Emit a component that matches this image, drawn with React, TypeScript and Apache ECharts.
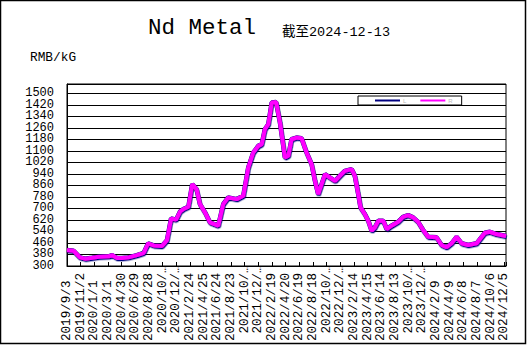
import React, { useEffect, useRef } from "react";
import * as echarts from "echarts";

const startDate = "2019-09-03";
const endDate = "2024-12-13";

const dates = [
  "2019-09-03", "2019-10-02", "2019-10-30", "2019-11-21", "2019-12-22", "2020-01-20",
  "2020-03-04", "2020-03-19", "2020-04-10", "2020-05-01", "2020-05-29", "2020-07-06",
  "2020-08-05", "2020-08-24", "2020-09-18", "2020-10-24", "2020-11-15", "2020-12-03",
  "2020-12-25", "2021-01-12", "2021-01-26", "2021-02-17", "2021-03-06", "2021-03-25",
  "2021-04-09", "2021-05-01", "2021-05-23", "2021-06-28", "2021-07-20", "2021-08-11",
  "2021-09-17", "2021-10-16", "2021-11-07", "2021-11-29", "2021-12-21", "2022-01-05",
  "2022-01-19", "2022-02-03", "2022-02-18", "2022-03-09", "2022-03-26", "2022-04-17",
  "2022-05-02", "2022-05-16", "2022-06-07", "2022-06-29", "2022-07-21", "2022-08-12",
  "2022-08-27", "2022-09-10", "2022-09-25", "2022-10-10", "2022-11-01", "2022-11-23",
  "2022-12-14", "2023-01-05", "2023-02-04", "2023-02-18", "2023-03-05", "2023-03-15",
  "2023-04-03", "2023-04-18", "2023-05-03", "2023-05-17", "2023-06-01", "2023-06-23",
  "2023-07-08", "2023-07-29", "2023-08-27", "2023-09-18", "2023-10-10", "2023-11-01",
  "2023-11-23", "2023-12-15", "2024-01-06", "2024-02-12", "2024-03-05", "2024-03-27",
  "2024-04-18", "2024-05-10", "2024-06-01", "2024-06-30", "2024-08-06", "2024-09-11",
  "2024-10-03", "2024-11-01", "2024-12-13",
];

const pricesL = [
  411, 406, 360, 351, 358, 365,
  367, 376, 355, 355, 360, 376,
  392, 457, 443, 439, 480, 630,
  622, 680, 696, 712, 869, 834,
  730, 673, 603, 580, 730, 777,
  765, 788, 985, 1089, 1135, 1147,
  1251, 1286, 1436, 1440, 1300, 1055,
  1066, 1181, 1193, 1188, 1089, 1008,
  892, 800, 869, 938, 915, 892,
  927, 961, 973, 927, 800, 707,
  661, 614, 545, 569, 614, 614,
  557, 580, 607, 642, 654, 638,
  607, 550, 503, 499, 446, 430,
  458, 503, 458, 446, 458, 531,
  538, 522, 508,
];
const pricesR = pricesL.slice();

const yTicks = [300, 380, 460, 540, 620, 700, 780, 860, 940, 1020, 1100, 1180, 1260, 1340, 1420, 1500];
const yMax = 1565;
const xTickStepDays = 60;

const titleText = "Nd Metal";
const subtitleText = "截至2024-12-13";
const unitText = "RMB/kG";
const seriesNames = ["L", "R"];

const DAY = 86400000;
const t0 = Date.parse(startDate);
const dayOf = (d: string) => Math.round((Date.parse(d) - t0) / DAY);
const maxDay = dayOf(endDate);

function fmtDay(v: number) {
  const d = new Date(t0 + v * DAY);
  return `${d.getUTCFullYear()}/${d.getUTCMonth() + 1}/${d.getUTCDate()}`;
}

export default function App() {
  const ref = useRef<HTMLDivElement>(null);
  useEffect(() => {
    if (!ref.current) return;
    const chart = echarts.init(ref.current, undefined, { renderer: "svg" });
    const mono = "Liberation Mono, DejaVu Sans Mono, monospace";
    const yLabelBase = {
      margin: 13,
      fontFamily: mono,
      fontSize: 12,
      color: "#000",
      hideOverlap: false,
    };
    const option: any = {
      animation: false,
      backgroundColor: "#fff",
      grid: {
        left: 67, right: 22, top: 84, bottom: 80,
        show: true, borderColor: "#000", borderWidth: 1, backgroundColor: "#fff",
      },
      graphic: [
        { type: "rect", shape: { x: 0.5, y: 0.5, width: 525, height: 343 }, style: { fill: "none", stroke: "#000", lineWidth: 1.5 }, silent: true },
        { type: "text", x: 148, y: 28, style: { text: titleText, font: `22.5px ${mono}`, fill: "#000", textVerticalAlign: "middle" } },
        { type: "text", x: 282, y: 32, style: { text: subtitleText, font: `13.5px Liberation Mono, Noto Sans CJK SC, monospace`, fill: "#000", textVerticalAlign: "middle" } },
        { type: "text", x: 30, y: 57, style: { text: unitText, font: `12.8px ${mono}`, fill: "#000", textVerticalAlign: "middle" } },
      ],
      legend: {
        data: seriesNames,
        left: 358, top: 96,
        orient: "horizontal",
        icon: "rect",
        itemWidth: 25, itemHeight: 2, itemGap: 14,
        padding: [1, 9, 1, 17],
        borderColor: "#000", borderWidth: 1, backgroundColor: "#fff",
        textStyle: { fontSize: 6, color: "#bbb", lineHeight: 7, padding: [0, 0, 0, -2] },
      },
      xAxis: {
        type: "value",
        min: 0, max: maxDay, interval: xTickStepDays,
        axisLine: { show: true, lineStyle: { color: "#000", width: 1 } },
        axisTick: { show: true, inside: true, length: 4, lineStyle: { color: "#000" } },
        splitLine: { show: false },
        axisLabel: {
          rotate: 90,
          align: "left",
          margin: 75,
          fontFamily: mono,
          fontSize: 12.6,
          color: "#000",
          hideOverlap: false,
          showMinLabel: true,
          showMaxLabel: true,
          formatter: (v: number) => {
            if (v % xTickStepDays !== 0) return "";
            const s = fmtDay(v);
            if (s.length >= 10) return " " + s.slice(0, 8) + "…";
            return s;
          },
        },
      },
      yAxis: [
        {
          type: "value",
          min: yTicks[0], max: yMax, interval: 80,
          axisLine: { show: true, lineStyle: { color: "#000", width: 1 } },
          axisTick: { show: false },
          splitLine: { show: true, lineStyle: { color: "#000", width: 1.2 } },
          axisLabel: {
            ...yLabelBase,
            showMinLabel: false,
            showMaxLabel: false,
            formatter: (v: number) => (v !== yTicks[0] && yTicks.indexOf(v) >= 0 ? String(v) : ""),
          },
        },
        {
          type: "value",
          position: "left",
          min: yTicks[0], max: yMax, interval: 80,
          axisLine: { show: false },
          axisTick: { show: false },
          splitLine: { show: false },
          axisLabel: {
            ...yLabelBase,
            showMinLabel: true,
            showMaxLabel: false,
            formatter: (v: number) => (v === yTicks[0] ? String(v) : ""),
          },
        },
      ],
      series: [
        {
          name: seriesNames[0],
          type: "line",
          showSymbol: false,
          color: "#000080",
          lineStyle: { color: "#000080", width: 4.5 },
          data: dates.map((d, i) => [dayOf(d), pricesL[i]]),
          z: 2,
        },
        {
          name: seriesNames[1],
          type: "line",
          showSymbol: false,
          color: "#FF00FF",
          lineStyle: { color: "#FF00FF", width: 4, shadowColor: "#000080", shadowBlur: 0, shadowOffsetX: 0.6, shadowOffsetY: 1.3 },
          data: dates.map((d, i) => [dayOf(d), pricesR[i]]),
          z: 3,
        },
      ],
    };
    chart.setOption(option);
    return () => chart.dispose();
  }, []);
  return (
    <div
      ref={ref}
      style={{ position: "absolute", left: 0, top: 0, width: 528, height: 346, background: "#fff" }}
    />
  );
}
